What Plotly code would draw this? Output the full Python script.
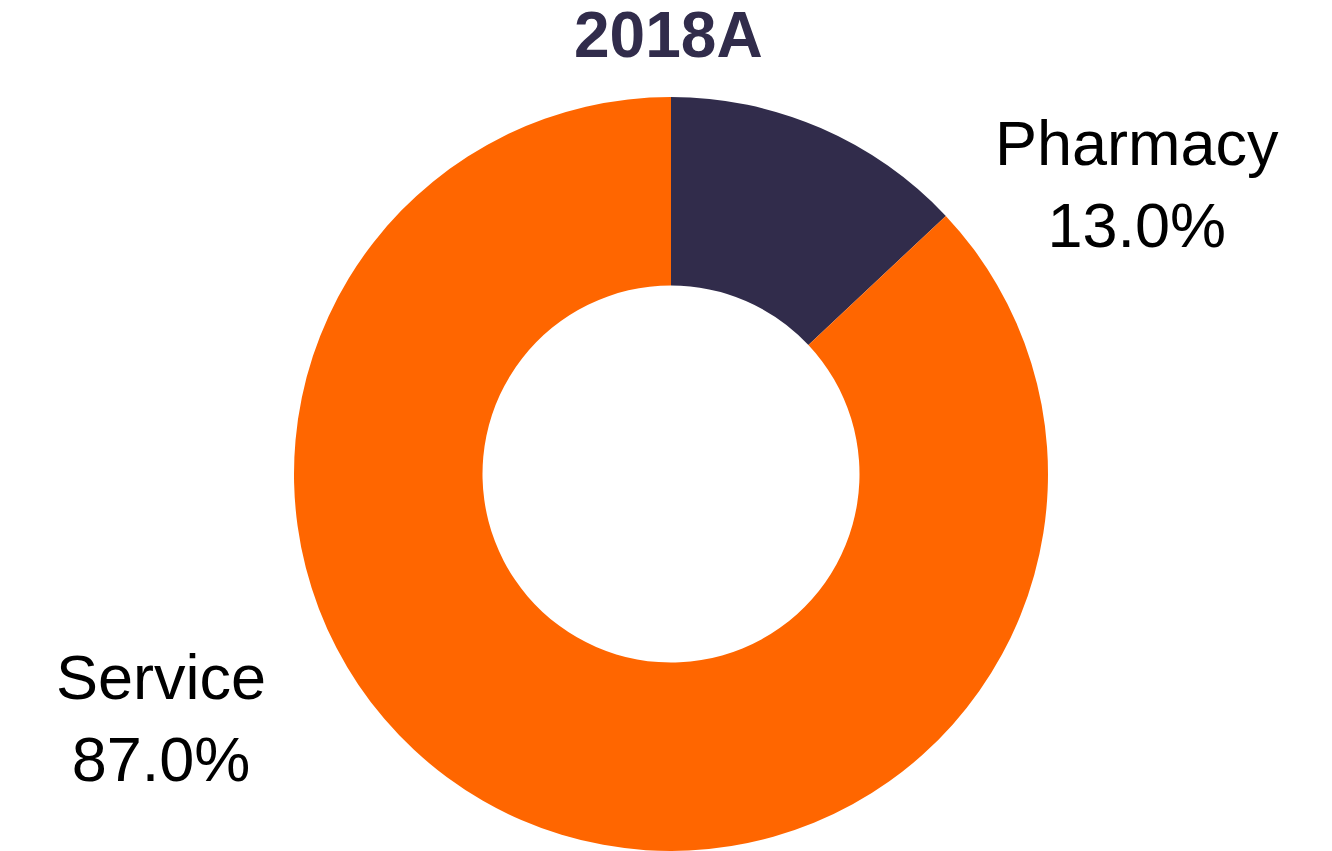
import plotly.graph_objects as go

# Revenue mix, 2018A
categories = ["Pharmacy", "Service"]
shares = [13.0, 87.0]
colors = ["#312C4B", "#FF6600"]
title_text = "2018A"

W, H = 1332, 851
M_L, M_R, M_T, M_B = 10, 0, 97, 0
PW, PH = W - M_L - M_R, H - M_T - M_B


def px_to_paper(x, y):
    return (x - M_L) / PW, (H - M_B - y) / PH


fig = go.Figure(
    go.Pie(
        labels=categories,
        values=shares,
        hole=0.5,
        sort=False,
        direction="clockwise",
        rotation=0,
        marker=dict(colors=colors, line=dict(width=0)),
        textinfo="none",
        hoverinfo="label+percent",
        showlegend=False,
    )
)

# Slice labels placed beside the ring
label_pos = {"Pharmacy": (1137, 184), "Service": (161, 718)}
annotations = []
for cat, val in zip(categories, shares):
    xp, yp = px_to_paper(*label_pos[cat])
    annotations.append(
        dict(
            x=xp, y=yp, xref="paper", yref="paper",
            text=f"{cat}<br>{val:.1f}%",
            showarrow=False, xanchor="center", yanchor="middle",
            align="center",
            font=dict(family="Liberation Sans, Arial, sans-serif", size=63, color="#000000"),
        )
    )

tx, ty = px_to_paper(668, 35)
annotations.append(
    dict(
        x=tx, y=ty, xref="paper", yref="paper",
        text=f"<b>{title_text}</b>",
        showarrow=False, xanchor="center", yanchor="middle",
        font=dict(family="Liberation Sans, Arial, sans-serif", size=64, color="#312C4B"),
    )
)

fig.update_layout(
    width=W, height=H,
    margin=dict(l=M_L, r=M_R, t=M_T, b=M_B),
    paper_bgcolor="white",
    plot_bgcolor="white",
    annotations=annotations,
)

fig.write_html("out.html")
